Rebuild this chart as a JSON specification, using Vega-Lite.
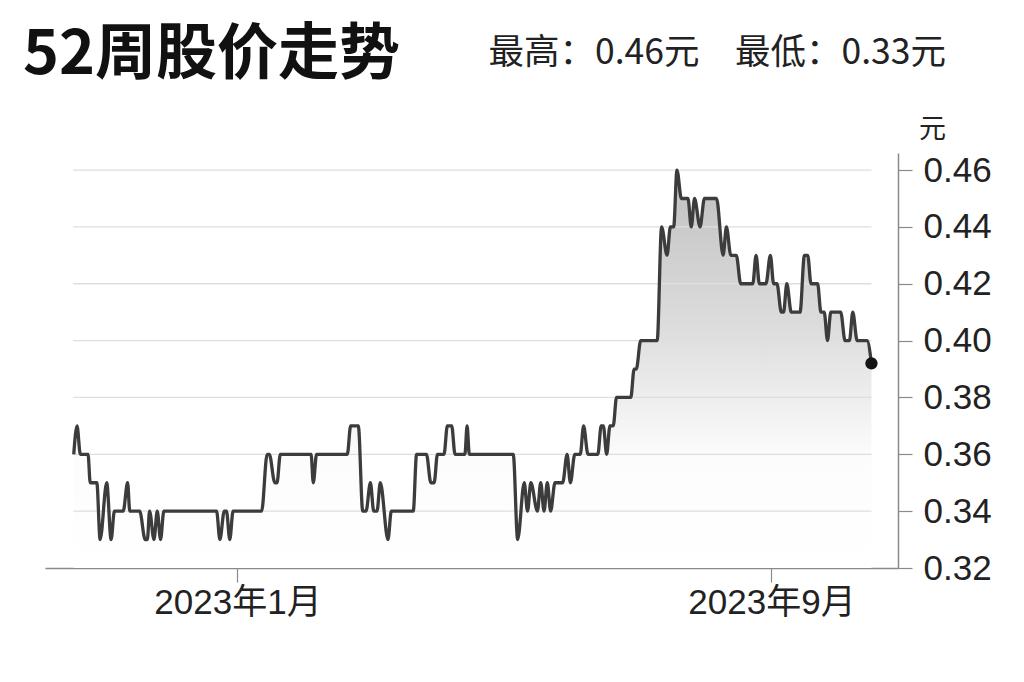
{
  "$schema": "https://vega.github.io/schema/vega-lite/v6.json",
  "width": 853,
  "height": 415,
  "autosize": "none",
  "padding": {"left": 45, "top": 153, "right": 126, "bottom": 114},
  "background": "white",
  "title": {
    "text": "52周股价走势",
    "anchor": "start",
    "frame": "group",
    "dx": -22,
    "dy": 56,
    "font": "Noto Sans CJK SC",
    "fontSize": 61,
    "fontWeight": "bold",
    "color": "#111111"
  },
  "config": {"view": {"stroke": null}},
  "datasets": {
    "price": [
      {"date": "2022-10-18T12:00:00Z", "price": 0.36},
      {"date": "2022-10-20T00:00:00Z", "price": 0.37},
      {"date": "2022-10-21T12:00:00Z", "price": 0.36},
      {"date": "2022-10-25T00:00:00Z", "price": 0.36},
      {"date": "2022-10-26T00:00:00Z", "price": 0.35},
      {"date": "2022-10-29T00:00:00Z", "price": 0.35},
      {"date": "2022-10-30T12:00:00Z", "price": 0.33},
      {"date": "2022-11-02T12:00:00Z", "price": 0.35},
      {"date": "2022-11-04T12:00:00Z", "price": 0.33},
      {"date": "2022-11-06T00:00:00Z", "price": 0.34},
      {"date": "2022-11-10T00:00:00Z", "price": 0.34},
      {"date": "2022-11-12T00:00:00Z", "price": 0.35},
      {"date": "2022-11-13T00:00:00Z", "price": 0.34},
      {"date": "2022-11-17T12:00:00Z", "price": 0.34},
      {"date": "2022-11-20T00:00:00Z", "price": 0.33},
      {"date": "2022-11-21T00:00:00Z", "price": 0.33},
      {"date": "2022-11-22T00:00:00Z", "price": 0.34},
      {"date": "2022-11-24T00:00:00Z", "price": 0.33},
      {"date": "2022-11-25T12:00:00Z", "price": 0.34},
      {"date": "2022-11-27T00:00:00Z", "price": 0.33},
      {"date": "2022-11-28T12:00:00Z", "price": 0.34},
      {"date": "2022-12-22T12:00:00Z", "price": 0.34},
      {"date": "2022-12-24T00:00:00Z", "price": 0.33},
      {"date": "2022-12-26T00:00:00Z", "price": 0.34},
      {"date": "2022-12-27T00:00:00Z", "price": 0.34},
      {"date": "2022-12-28T12:00:00Z", "price": 0.33},
      {"date": "2022-12-30T00:00:00Z", "price": 0.34},
      {"date": "2023-01-12T00:00:00Z", "price": 0.34},
      {"date": "2023-01-14T12:00:00Z", "price": 0.36},
      {"date": "2023-01-15T12:00:00Z", "price": 0.36},
      {"date": "2023-01-18T00:00:00Z", "price": 0.35},
      {"date": "2023-01-19T00:00:00Z", "price": 0.35},
      {"date": "2023-01-20T12:00:00Z", "price": 0.36},
      {"date": "2023-02-03T12:00:00Z", "price": 0.36},
      {"date": "2023-02-04T12:00:00Z", "price": 0.35},
      {"date": "2023-02-06T00:00:00Z", "price": 0.36},
      {"date": "2023-02-20T00:00:00Z", "price": 0.36},
      {"date": "2023-02-21T12:00:00Z", "price": 0.37},
      {"date": "2023-02-25T00:00:00Z", "price": 0.37},
      {"date": "2023-02-27T00:00:00Z", "price": 0.34},
      {"date": "2023-02-28T12:00:00Z", "price": 0.34},
      {"date": "2023-03-02T12:00:00Z", "price": 0.35},
      {"date": "2023-03-04T00:00:00Z", "price": 0.34},
      {"date": "2023-03-05T12:00:00Z", "price": 0.34},
      {"date": "2023-03-07T00:00:00Z", "price": 0.35},
      {"date": "2023-03-10T12:00:00Z", "price": 0.33},
      {"date": "2023-03-12T00:00:00Z", "price": 0.34},
      {"date": "2023-03-22T00:00:00Z", "price": 0.34},
      {"date": "2023-03-23T12:00:00Z", "price": 0.36},
      {"date": "2023-03-28T00:00:00Z", "price": 0.36},
      {"date": "2023-03-30T00:00:00Z", "price": 0.35},
      {"date": "2023-03-31T12:00:00Z", "price": 0.35},
      {"date": "2023-04-02T00:00:00Z", "price": 0.36},
      {"date": "2023-04-05T00:00:00Z", "price": 0.36},
      {"date": "2023-04-06T12:00:00Z", "price": 0.37},
      {"date": "2023-04-08T12:00:00Z", "price": 0.37},
      {"date": "2023-04-10T00:00:00Z", "price": 0.36},
      {"date": "2023-04-14T12:00:00Z", "price": 0.36},
      {"date": "2023-04-15T12:00:00Z", "price": 0.37},
      {"date": "2023-04-16T12:00:00Z", "price": 0.36},
      {"date": "2023-05-06T12:00:00Z", "price": 0.36},
      {"date": "2023-05-08T12:00:00Z", "price": 0.33},
      {"date": "2023-05-11T12:00:00Z", "price": 0.35},
      {"date": "2023-05-13T00:00:00Z", "price": 0.34},
      {"date": "2023-05-14T12:00:00Z", "price": 0.35},
      {"date": "2023-05-17T12:00:00Z", "price": 0.34},
      {"date": "2023-05-19T00:00:00Z", "price": 0.35},
      {"date": "2023-05-20T12:00:00Z", "price": 0.34},
      {"date": "2023-05-22T00:00:00Z", "price": 0.35},
      {"date": "2023-05-23T12:00:00Z", "price": 0.34},
      {"date": "2023-05-25T12:00:00Z", "price": 0.35},
      {"date": "2023-05-29T00:00:00Z", "price": 0.35},
      {"date": "2023-05-31T00:00:00Z", "price": 0.36},
      {"date": "2023-06-01T12:00:00Z", "price": 0.35},
      {"date": "2023-06-03T12:00:00Z", "price": 0.36},
      {"date": "2023-06-06T00:00:00Z", "price": 0.36},
      {"date": "2023-06-07T12:00:00Z", "price": 0.37},
      {"date": "2023-06-09T12:00:00Z", "price": 0.36},
      {"date": "2023-06-14T00:00:00Z", "price": 0.36},
      {"date": "2023-06-15T12:00:00Z", "price": 0.37},
      {"date": "2023-06-16T12:00:00Z", "price": 0.37},
      {"date": "2023-06-18T00:00:00Z", "price": 0.36},
      {"date": "2023-06-19T12:00:00Z", "price": 0.37},
      {"date": "2023-06-21T00:00:00Z", "price": 0.37},
      {"date": "2023-06-22T12:00:00Z", "price": 0.38},
      {"date": "2023-06-29T00:00:00Z", "price": 0.38},
      {"date": "2023-06-30T12:00:00Z", "price": 0.39},
      {"date": "2023-07-01T12:00:00Z", "price": 0.39},
      {"date": "2023-07-03T12:00:00Z", "price": 0.40},
      {"date": "2023-07-11T00:00:00Z", "price": 0.40},
      {"date": "2023-07-13T00:00:00Z", "price": 0.44},
      {"date": "2023-07-15T12:00:00Z", "price": 0.43},
      {"date": "2023-07-17T00:00:00Z", "price": 0.44},
      {"date": "2023-07-18T12:00:00Z", "price": 0.44},
      {"date": "2023-07-20T00:00:00Z", "price": 0.46},
      {"date": "2023-07-22T00:00:00Z", "price": 0.45},
      {"date": "2023-07-25T00:00:00Z", "price": 0.45},
      {"date": "2023-07-26T12:00:00Z", "price": 0.44},
      {"date": "2023-07-28T00:00:00Z", "price": 0.45},
      {"date": "2023-07-30T12:00:00Z", "price": 0.44},
      {"date": "2023-08-01T12:00:00Z", "price": 0.45},
      {"date": "2023-08-07T00:00:00Z", "price": 0.45},
      {"date": "2023-08-10T00:00:00Z", "price": 0.43},
      {"date": "2023-08-11T12:00:00Z", "price": 0.44},
      {"date": "2023-08-13T12:00:00Z", "price": 0.43},
      {"date": "2023-08-16T00:00:00Z", "price": 0.43},
      {"date": "2023-08-18T00:00:00Z", "price": 0.42},
      {"date": "2023-08-23T12:00:00Z", "price": 0.42},
      {"date": "2023-08-25T00:00:00Z", "price": 0.43},
      {"date": "2023-08-26T12:00:00Z", "price": 0.42},
      {"date": "2023-08-29T12:00:00Z", "price": 0.42},
      {"date": "2023-08-31T12:00:00Z", "price": 0.43},
      {"date": "2023-09-02T00:00:00Z", "price": 0.42},
      {"date": "2023-09-03T12:00:00Z", "price": 0.42},
      {"date": "2023-09-05T12:00:00Z", "price": 0.41},
      {"date": "2023-09-06T12:00:00Z", "price": 0.41},
      {"date": "2023-09-08T00:00:00Z", "price": 0.42},
      {"date": "2023-09-10T00:00:00Z", "price": 0.41},
      {"date": "2023-09-14T00:00:00Z", "price": 0.41},
      {"date": "2023-09-16T00:00:00Z", "price": 0.43},
      {"date": "2023-09-17T12:00:00Z", "price": 0.43},
      {"date": "2023-09-19T00:00:00Z", "price": 0.42},
      {"date": "2023-09-22T00:00:00Z", "price": 0.42},
      {"date": "2023-09-23T12:00:00Z", "price": 0.41},
      {"date": "2023-09-25T00:00:00Z", "price": 0.41},
      {"date": "2023-09-26T12:00:00Z", "price": 0.40},
      {"date": "2023-09-28T00:00:00Z", "price": 0.41},
      {"date": "2023-10-02T12:00:00Z", "price": 0.41},
      {"date": "2023-10-04T12:00:00Z", "price": 0.40},
      {"date": "2023-10-06T12:00:00Z", "price": 0.40},
      {"date": "2023-10-08T00:00:00Z", "price": 0.41},
      {"date": "2023-10-10T00:00:00Z", "price": 0.40},
      {"date": "2023-10-14T12:00:00Z", "price": 0.40},
      {"date": "2023-10-16T12:00:00Z", "price": 0.392}
    ],
    "grid": [
      {"v": 0.34}, {"v": 0.36}, {"v": 0.38}, {"v": 0.40},
      {"v": 0.42}, {"v": 0.44}, {"v": 0.46}
    ]
  },
  "layer": [
    {
      "data": {"name": "price"},
      "mark": {
        "type": "area",
        "interpolate": "monotone",
        "color": {
          "gradient": "linear",
          "x1": 0, "y1": 0, "x2": 0, "y2": 1,
          "stops": [
            {"offset": 0, "color": "#c0c0c0"},
            {"offset": 0.4, "color": "#dddddd"},
            {"offset": 0.72, "color": "#fcfcfc"},
            {"offset": 1, "color": "#ffffff"}
          ]
        }
      },
      "encoding": {
        "x": {
          "field": "date",
          "type": "temporal",
          "scale": {
            "type": "utc",
            "domain": [
              {"year": 2022, "month": 10, "date": 5, "hours": 10, "utc": true},
              {"year": 2023, "month": 10, "date": 28, "hours": 14, "utc": true}
            ]
          },
          "axis": {
            "orient": "bottom",
            "title": null,
            "grid": false,
            "values": [
              {"year": 2023, "month": 1, "date": 1, "utc": true},
              {"year": 2023, "month": 9, "date": 1, "utc": true}
            ],
            "labelExpr": "utcFormat(datum.value, '%Y年%-m月')",
            "domainColor": "#8a8a8a",
            "domainWidth": 1.5,
            "tickColor": "#8a8a8a",
            "tickWidth": 1.2,
            "tickSize": 14,
            "labelPadding": 3,
            "labelFont": "Liberation Sans, Noto Sans CJK SC",
            "labelFontSize": 35,
            "labelColor": "#222222",
            "labelFlush": false
          }
        },
        "y": {
          "field": "price",
          "type": "quantitative",
          "scale": {"domain": [0.32, 0.466], "nice": false, "zero": false},
          "axis": {
            "orient": "right",
            "grid": false,
            "values": [0.32, 0.34, 0.36, 0.38, 0.40, 0.42, 0.44, 0.46],
            "format": ".2f",
            "domainColor": "#8a8a8a",
            "domainWidth": 1.5,
            "tickColor": "#8a8a8a",
            "tickWidth": 1.2,
            "tickSize": 14,
            "labelPadding": 11,
            "labelFont": "Liberation Sans",
            "labelFontSize": 35,
            "labelColor": "#222222",
            "labelBaseline": "middle",
            "title": "元",
            "titleAngle": 0,
            "titleX": 34,
            "titleY": -24,
            "titleAlign": "center",
            "titleBaseline": "middle",
            "titleFont": "Noto Sans CJK SC",
            "titleFontSize": 27,
            "titleFontWeight": "normal",
            "titleColor": "#222222"
          }
        },
        "y2": {"datum": 0.32}
      }
    },
    {
      "data": {"name": "grid"},
      "mark": {"type": "rule", "color": "#dedede", "strokeWidth": 1.3},
      "encoding": {
        "y": {
          "field": "v",
          "type": "quantitative",
          "scale": {"domain": [0.32, 0.466], "nice": false, "zero": false}
        },
        "x": {
          "datum": {"year": 2022, "month": 10, "date": 18, "hours": 6, "utc": true},
          "type": "temporal",
          "axis": {
            "orient": "top",
            "domain": false,
            "ticks": false,
            "labels": false,
            "grid": false,
            "title": "最高：0.46元　最低：0.33元",
            "titleX": 443,
            "titleY": -101,
            "titleAlign": "left",
            "titleBaseline": "middle",
            "titleFont": "Noto Sans CJK SC",
            "titleFontSize": 35.5,
            "titleFontWeight": "normal",
            "titleColor": "#222222"
          }
        },
        "x2": {"datum": {"year": 2023, "month": 10, "date": 16, "hours": 12, "utc": true}}
      }
    },
    {
      "data": {"name": "price"},
      "mark": {"type": "line", "interpolate": "monotone", "color": "#3c3c3c", "strokeWidth": 3.3},
      "encoding": {
        "x": {"field": "date", "type": "temporal", "axis": null},
        "y": {
          "field": "price",
          "type": "quantitative",
          "scale": {"domain": [0.32, 0.466], "nice": false, "zero": false}
        }
      }
    },
    {
      "data": {"name": "price"},
      "transform": [
        {"window": [{"op": "row_number", "as": "rn"}], "sort": [{"field": "date", "order": "descending"}]},
        {"filter": "datum.rn == 1"}
      ],
      "mark": {"type": "point", "filled": true, "color": "#151515", "size": 150, "opacity": 1},
      "encoding": {
        "x": {"field": "date", "type": "temporal", "axis": null},
        "y": {
          "field": "price",
          "type": "quantitative",
          "scale": {"domain": [0.32, 0.466], "nice": false, "zero": false}
        }
      }
    }
  ],
  "resolve": {"axis": {"x": "independent"}}
}
